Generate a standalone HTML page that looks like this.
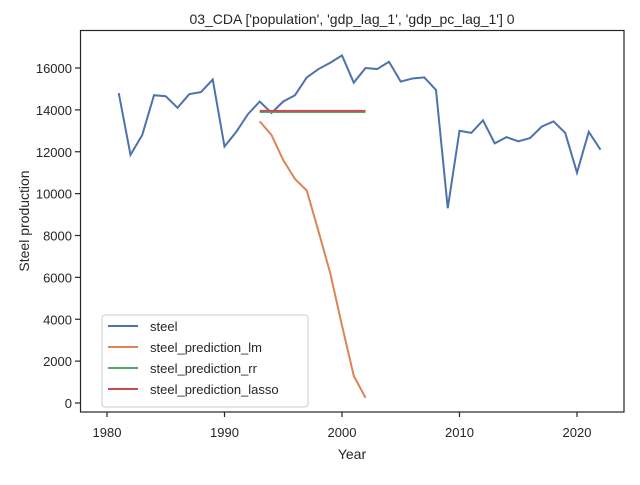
<!DOCTYPE html>
<html><head><meta charset="utf-8"><style>
body{margin:0;background:#fff;font-family:"Liberation Sans","DejaVu Sans",sans-serif;}
text{font-family:"Liberation Sans","DejaVu Sans",sans-serif;fill:#262626;}
</style></head><body>
<svg id="chart" width="640" height="480">
<rect x="80.5" y="30.5" width="543.5" height="381.5" fill="none" stroke="#262626" stroke-width="1.2"/>
<text x="352" y="24" font-size="14" text-anchor="middle">03_CDA ['population', 'gdp_lag_1', 'gdp_pc_lag_1'] 0</text>
<text x="352" y="459" font-size="14" text-anchor="middle">Year</text>
<text x="29" y="221" font-size="14" text-anchor="middle" transform="rotate(-90 29 221)">Steel production</text>
<g id="axes"></g><g id="series"></g><g id="legend"></g>
</svg>
<script>
const years=[1981,1982,1983,1984,1985,1986,1987,1988,1989,1990,1991,1992,1993,1994,1995,1996,1997,1998,1999,2000,2001,2002,2003,2004,2005,2006,2007,2008,2009,2010,2011,2012,2013,2014,2015,2016,2017,2018,2019,2020,2021,2022];
const steel=[14800,11850,12800,14700,14650,14100,14750,14850,15450,12250,12950,13800,14400,13850,14400,14700,15550,15950,16250,16600,15300,16000,15950,16300,15350,15500,15550,14950,9300,13000,12900,13500,12400,12700,12500,12650,13200,13450,12900,11000,12950,12100];
const predYears=[1993,1994,1995,1996,1997,1998,1999,2000,2001,2002];
const predLm=[13450,12800,11600,10700,10150,8200,6200,3700,1300,250];
const predRr=[13900,13900,13900,13900,13900,13900,13900,13900,13900,13900];
const predLasso=[13950,13950,13950,13950,13950,13950,13950,13950,13950,13950];
const xTicks=[1980,1990,2000,2010,2020];
const yTicks=[0,2000,4000,6000,8000,10000,12000,14000,16000];
const NS='http://www.w3.org/2000/svg';
const X=v=>107+(v-1980)*11.75;
const Y=v=>403-v*(335/16000);
function mk(t,a,p){const e=document.createElementNS(NS,t);for(const k in a)e.setAttribute(k,a[k]);p.appendChild(e);return e;}
const axes=document.getElementById('axes');
xTicks.forEach(t=>{const l=mk('line',{x1:X(t),x2:X(t),y1:412,y2:417,stroke:'#262626','stroke-width':1.2},axes);


const s=mk('text',{x:X(t),y:437,'font-size':13,'text-anchor':'middle'},axes);s.textContent=t;

});
yTicks.forEach(t=>{const l=mk('line',{x1:75,x2:80,y1:Y(t),y2:Y(t),stroke:'#262626','stroke-width':1.2},axes);


const s=mk('text',{x:72,y:Y(t)+5,'font-size':13,'text-anchor':'end'},axes);s.textContent=t;

});
const ser=document.getElementById('series');
function line(xs,ys,c,name){const p=mk('polyline',{points:xs.map((x,i)=>X(x)+','+Y(ys[i])).join(' '),fill:'none',stroke:c,'stroke-width':2},ser);

}
line(years,steel,'#4c72b0','steel-line');
line(predYears,predLm,'#dd8452','steel-prediction-lm-line');
line(predYears,predRr,'#55a868','steel-prediction-rr-line');
line(predYears,predLasso,'#c44e52','steel-prediction-lasso-line');
const lg=document.getElementById('legend');
const box=mk('rect',{x:102,y:315,width:206,height:92,rx:3,fill:'#fff','fill-opacity':0.8,stroke:'#ccc'},lg);


[['steel','#4c72b0'],['steel_prediction_lm','#dd8452'],['steel_prediction_rr','#55a868'],['steel_prediction_lasso','#c44e52']].forEach((d,i)=>{
const y=326+i*21;
const g=mk('g',{},lg);


mk('line',{x1:108,x2:138,y1:y,y2:y,stroke:d[1],'stroke-width':2},g);
const t=mk('text',{x:150,y:y+5,'font-size':13},g);t.textContent=d[0];});
</script>
</body></html>
